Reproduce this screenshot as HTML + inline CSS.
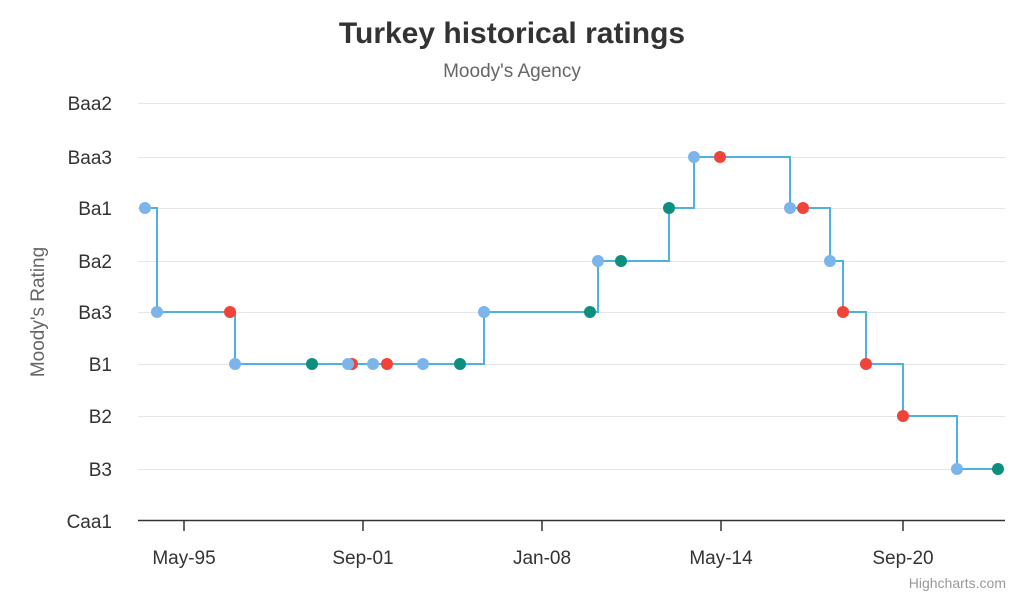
<!DOCTYPE html>
<html><head><meta charset="utf-8"><style>
html,body{margin:0;padding:0;background:#fff;}
svg{display:block;font-family:"Liberation Sans",Arial,sans-serif;}
</style></head><body>
<svg width="1024" height="597" viewBox="0 0 1024 597" xmlns="http://www.w3.org/2000/svg">
<rect width="1024" height="597" fill="#fff"/>
<text x="512" y="43" text-anchor="middle" font-size="30" font-weight="bold" fill="#333">Turkey historical ratings</text>
<text x="512" y="77" text-anchor="middle" font-size="19" fill="#666">Moody's Agency</text>
<g stroke="#e6e6e6" stroke-width="1">
<line x1="138" x2="1005" y1="103.5" y2="103.5"/>
<line x1="138" x2="1005" y1="157.5" y2="157.5"/>
<line x1="138" x2="1005" y1="208.5" y2="208.5"/>
<line x1="138" x2="1005" y1="261.5" y2="261.5"/>
<line x1="138" x2="1005" y1="312.5" y2="312.5"/>
<line x1="138" x2="1005" y1="364.5" y2="364.5"/>
<line x1="138" x2="1005" y1="416.5" y2="416.5"/>
<line x1="138" x2="1005" y1="469.5" y2="469.5"/>
</g>
<line x1="138" x2="1005" y1="520.5" y2="520.5" stroke="#333" stroke-width="1.5"/>
<g stroke="#333" stroke-width="1.5">
<line x1="184" x2="184" y1="520" y2="531"/>
<line x1="363" x2="363" y1="520" y2="531"/>
<line x1="542" x2="542" y1="520" y2="531"/>
<line x1="721" x2="721" y1="520" y2="531"/>
<line x1="903" x2="903" y1="520" y2="531"/>
</g>
<g font-size="19" fill="#333" text-anchor="end">
<text x="112" y="110">Baa2</text>
<text x="112" y="164">Baa3</text>
<text x="112" y="215">Ba1</text>
<text x="112" y="268">Ba2</text>
<text x="112" y="319">Ba3</text>
<text x="112" y="371">B1</text>
<text x="112" y="423">B2</text>
<text x="112" y="476">B3</text>
<text x="112" y="528">Caa1</text>
</g>
<g font-size="19" fill="#333" text-anchor="middle">
<text x="184" y="564">May-95</text>
<text x="363" y="564">Sep-01</text>
<text x="542" y="564">Jan-08</text>
<text x="721" y="564">May-14</text>
<text x="903" y="564">Sep-20</text>
</g>
<text transform="translate(44,312) rotate(-90)" text-anchor="middle" font-size="19" fill="#666">Moody's Rating</text>
<text x="1006" y="588" text-anchor="end" font-size="14" fill="#999">Highcharts.com</text>
<path d="M145,208 H157 V312 H235 V364 H484 V312 H598 V261 H669 V208 H694 V157 H790 V208 H830 V261 H843 V312 H866 V364 H903 V416 H957 V469 H998" fill="none" stroke="#4db1e2" stroke-width="2"/>
<g>
<circle cx="145" cy="208" r="6" fill="#7cb5ec"/>
<circle cx="157" cy="312" r="6" fill="#7cb5ec"/>
<circle cx="230" cy="312" r="6" fill="#f0433a"/>
<circle cx="235" cy="364" r="6" fill="#7cb5ec"/>
<circle cx="312" cy="364" r="6" fill="#0e8f7e"/>
<circle cx="352" cy="364" r="6" fill="#f0433a"/>
<circle cx="348" cy="364" r="6" fill="#7cb5ec"/>
<circle cx="373" cy="364" r="6" fill="#7cb5ec"/>
<circle cx="387" cy="364" r="6" fill="#f0433a"/>
<circle cx="423" cy="364" r="6" fill="#7cb5ec"/>
<circle cx="460" cy="364" r="6" fill="#0e8f7e"/>
<circle cx="484" cy="312" r="6" fill="#7cb5ec"/>
<circle cx="590" cy="312" r="6" fill="#0e8f7e"/>
<circle cx="598" cy="261" r="6" fill="#7cb5ec"/>
<circle cx="621" cy="261" r="6" fill="#0e8f7e"/>
<circle cx="669" cy="208" r="6" fill="#0e8f7e"/>
<circle cx="694" cy="157" r="6" fill="#7cb5ec"/>
<circle cx="720" cy="157" r="6" fill="#f0433a"/>
<circle cx="790" cy="208" r="6" fill="#7cb5ec"/>
<circle cx="803" cy="208" r="6" fill="#f0433a"/>
<circle cx="830" cy="261" r="6" fill="#7cb5ec"/>
<circle cx="843" cy="312" r="6" fill="#f0433a"/>
<circle cx="866" cy="364" r="6" fill="#f0433a"/>
<circle cx="903" cy="416" r="6" fill="#f0433a"/>
<circle cx="957" cy="469" r="6" fill="#7cb5ec"/>
<circle cx="998" cy="469" r="6" fill="#0e8f7e"/>
</g>
</svg>
</body></html>
